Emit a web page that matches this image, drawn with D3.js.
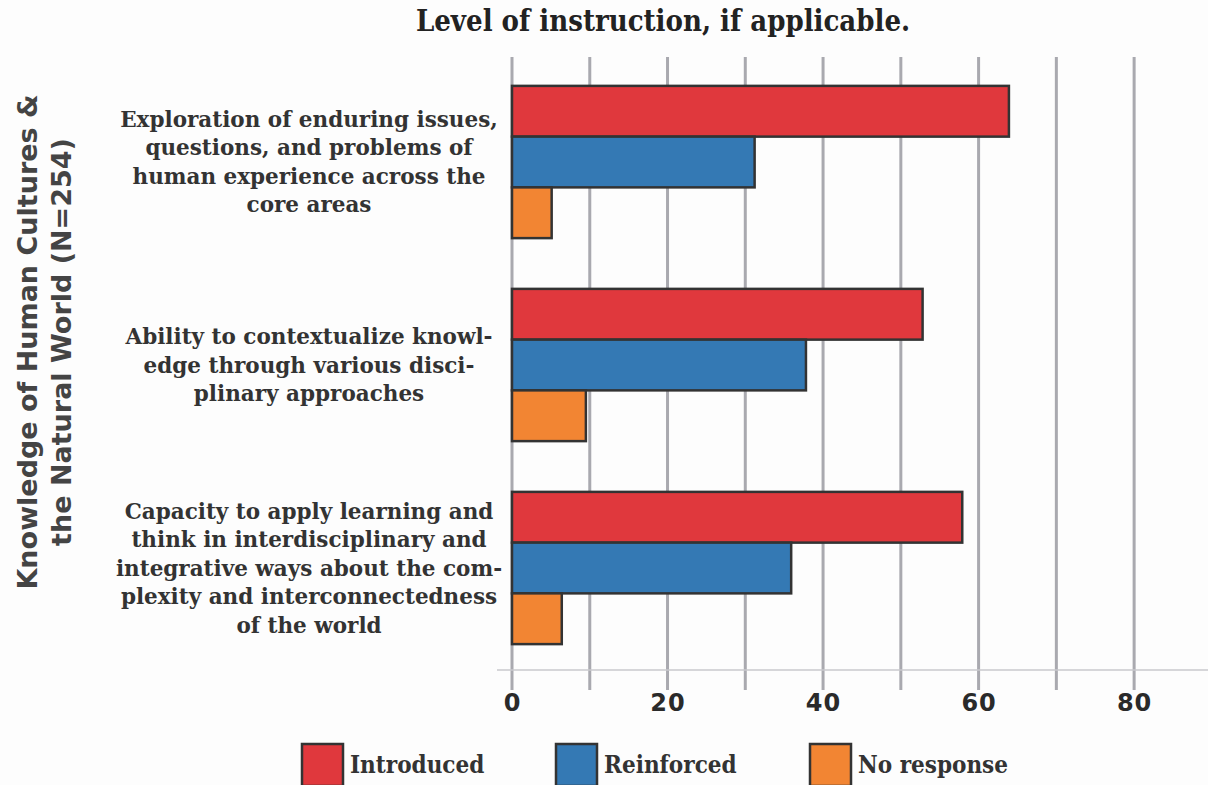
<!DOCTYPE html>
<html>
<head>
<meta charset="utf-8">
<script src="https://cdn.jsdelivr.net/npm/d3@7"></script>
<style>
  html, body { margin: 0; padding: 0; background: #fdfdfd; }
  svg { display: block; }
</style>
</head>
<body>
<svg id="chart" width="1208" height="785"></svg>
<script>
// ---- data ----
const categories = [
  "Exploration of enduring issues, questions, and problems of human experience across the core areas",
  "Ability to contextualize knowledge through various disciplinary approaches",
  "Capacity to apply learning and think in interdisciplinary and integrative ways about the complexity and interconnectedness of the world"
];
const categoryLines = [
  ["Exploration of enduring issues,", "questions, and problems of", "human experience across the", "core areas"],
  ["Ability to contextualize knowl-", "edge through various disci-", "plinary approaches"],
  ["Capacity to apply learning and", "think in interdisciplinary and", "integrative ways about the com-", "plexity and interconnectedness", "of the world"]
];
const seriesNames = ["Introduced", "Reinforced", "No response"];
const introduced = [63.9, 52.8, 57.9];
const reinforced = [31.2, 37.8, 35.9];
const noResponse = [5.1, 9.5, 6.4];
const seriesColors = ["#e0383d", "#3479b4", "#f28533"];
const tickValues = [0, 20, 40, 60, 80];
const gridValues = [0, 10, 20, 30, 40, 50, 60, 70, 80];
const chartTitle = "Level of instruction, if applicable.";
const yTitleLines = ["Knowledge of Human Cultures &", "the Natural World (N=254)"];

const seriesValues = [introduced, reinforced, noResponse];

// ---- layout ----
const svg = d3.select("#chart");
const x0 = 512, x1 = 1208;
const yTop = 60.5, yBottom = 669.5;

const x = d3.scaleLinear().domain([0, 89.5]).range([x0, x1]);
const y = d3.scaleBand().domain(d3.range(categories.length)).range([yTop, yBottom])
  .paddingInner(0.25).paddingOuter(0.125);
const ySub = d3.scaleBand().domain(d3.range(seriesNames.length)).range([0, y.bandwidth()]);

// title
svg.append("text")
  .attr("x", 663).attr("y", 31)
  .attr("text-anchor", "middle")
  .style("font-family", "'DejaVu Serif Condensed', 'DejaVu Serif', serif")
  .style("font-weight", "bold")
  .style("font-size", "29px")
  .style("fill", "#222")
  .text(chartTitle);

// gridlines
svg.append("g").selectAll("line").data(gridValues).join("line")
  .attr("x1", d => x(d)).attr("x2", d => x(d))
  .attr("y1", 57).attr("y2", 690)
  .attr("stroke", "#a9a9af").attr("stroke-width", 3);

// axis baseline
svg.append("line")
  .attr("x1", 497).attr("x2", 1208)
  .attr("y1", 670).attr("y2", 670)
  .attr("stroke", "#c8c8cc").attr("stroke-width", 1.5);

// x tick labels via d3 axis
const xAxis = d3.axisBottom(x).tickValues(tickValues).tickSize(0).tickPadding(0);
const gx = svg.append("g").attr("transform", "translate(0,694)").call(xAxis);
gx.select(".domain").remove();
gx.selectAll("text")
  .style("font-family", "'DejaVu Sans', sans-serif")
  .style("font-weight", "bold")
  .style("font-size", "24px")
  .style("letter-spacing", "1px")
  .style("fill", "#2a2a2a")
  .attr("dy", "0.71em");

// bars
const groups = svg.append("g").selectAll("g").data(categories).join("g")
  .attr("transform", (d, i) => `translate(0,${y(i)})`);
groups.selectAll("rect")
  .data((d, i) => seriesValues.map((s, j) => ({ s: j, v: s[i] })))
  .join("rect")
  .attr("x", x(0))
  .attr("y", d => ySub(d.s))
  .attr("width", d => x(d.v) - x(0))
  .attr("height", ySub.bandwidth())
  .attr("fill", d => seriesColors[d.s])
  .attr("stroke", "#333")
  .attr("stroke-width", 2.5);

// category labels
const lineH = 28.5;
categoryLines.forEach((lines, i) => {
  const cy = y(i) + y.bandwidth() / 2;
  const startY = cy - (lines.length - 1) * lineH / 2;
  const t = svg.append("text")
    .attr("text-anchor", "middle")
    .style("font-family", "'DejaVu Serif', serif")
    .style("font-weight", "bold")
    .style("font-size", "21.5px")
    .style("fill", "#333");
  lines.forEach((ln, k) => {
    t.append("tspan").attr("x", 309).attr("y", startY + k * lineH).attr("dy", "0.35em").text(ln);
  });
});

// y axis title
const yt = svg.append("text")
  .attr("text-anchor", "middle")
  .style("font-family", "'DejaVu Sans', sans-serif")
  .style("font-weight", "bold")
  .style("font-size", "27px")
  .style("fill", "#444");
yTitleLines.forEach((ln, k) => {
  yt.append("tspan")
    .attr("x", -342).attr("y", 28 + k * 34)
    .attr("dy", "0.35em")
    .text(ln);
});
yt.attr("transform", "rotate(-90)");

// legend
const legend = svg.append("g").selectAll("g").data(seriesNames).join("g")
  .attr("transform", (d, i) => `translate(${302 + i * 254},744)`);
legend.append("rect")
  .attr("x", 0).attr("y", 0).attr("width", 41).attr("height", 42)
  .attr("fill", (d, i) => seriesColors[i])
  .attr("stroke", "#333").attr("stroke-width", 2.5);
legend.append("text")
  .attr("x", 48).attr("y", 21).attr("dy", "0.35em")
  .style("font-family", "'DejaVu Serif Condensed', 'DejaVu Serif', serif")
  .style("font-weight", "bold")
  .style("font-size", "24px")
  .style("fill", "#333")
  .text(d => d);
</script>
</body>
</html>
